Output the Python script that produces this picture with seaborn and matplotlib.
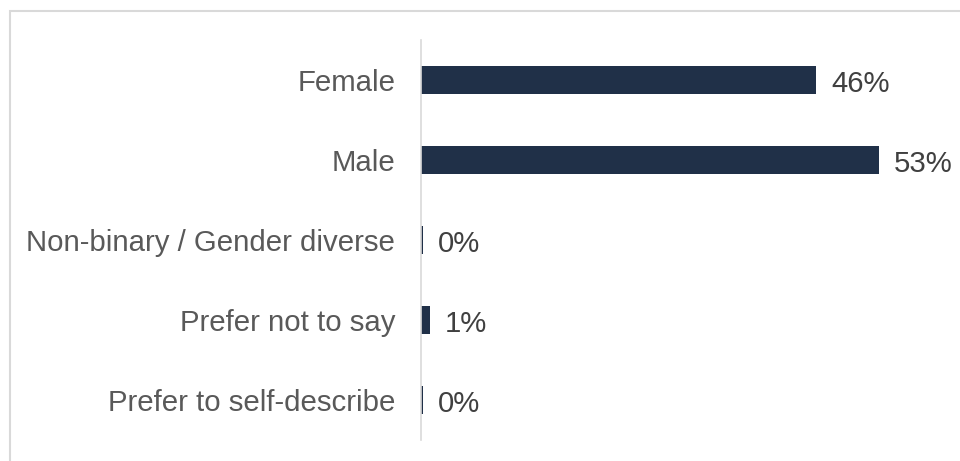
import matplotlib
matplotlib.use("Agg")
import matplotlib.pyplot as plt
from matplotlib.patches import Rectangle
import seaborn as sns
import pandas as pd

categories = ["Female", "Male", "Non-binary / Gender diverse", "Prefer not to say", "Prefer to self-describe"]
values = [45.8, 53.1, 0.2, 1.0, 0.2]

df = pd.DataFrame({"category": categories, "value": values})

sns.set_theme(style="white")
plt.rcParams['font.family'] = ['Liberation Sans', 'DejaVu Sans']

fig = plt.figure(figsize=(9.6, 4.61), dpi=100)
ax = fig.add_axes([421/960, 1-440/461, (950-421)/960, 400/461])

bar_color = "#203048"
sns.barplot(data=df, x="value", y="category", orient="h", color=bar_color,
            width=0.35, ax=ax, saturation=1, edgecolor="none")

ax.set_xlim(0, (950-421)/8.62)
ax.set_ylim(4.5, -0.5)
ax.set_xlabel("")
ax.set_ylabel("")
ax.set_xticks([])
for s in ["top", "right", "bottom"]:
    ax.spines[s].set_visible(False)
ax.spines["left"].set_color("#d9d9d9")
ax.spines["left"].set_linewidth(1.2)
ax.tick_params(axis="y", length=0, pad=18.5, labelsize=21.2, labelcolor="#595959")

for cont in ax.containers:
    anns = ax.bar_label(cont, labels=[f"{v:.0f}%" for v in values], padding=11,
                        fontsize=21.2, color="#404040")
    for a in anns:
        a.xyann = (11, -3)

fig.add_artist(Rectangle((9.8/960, -0.1), 1.2, (461-11.5)/461 + 0.1,
                         transform=fig.transFigure, fill=False,
                         edgecolor="#d9d9d9", linewidth=1.5))

fig.savefig("out.png", dpi=100)
